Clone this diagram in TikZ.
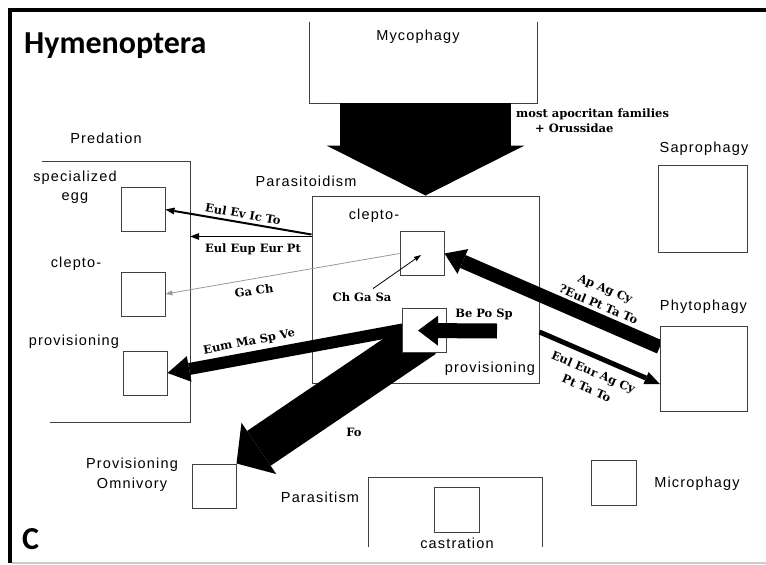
\documentclass[tikz,border=0pt]{standalone}
\usepackage{fontspec}
\setmainfont{Liberation Sans}
\newfontfamily\titlefont{Carlito}
\newfontfamily\taxfont{DejaVu Serif}
\newfontfamily\catfont[LetterSpace=8]{Liberation Sans}
\usetikzlibrary{arrows.meta}
\colorlet{boxgray}{black!75}
\colorlet{thingray}{black!40}

\begin{document}
\begin{tikzpicture}[x=1pt,y=-1pt]
\tikzset{sq/.style={draw=boxgray,line width=1pt,fill=white,minimum size=44pt,inner sep=0pt}}
\tikzset{area/.style={inner sep=0pt,minimum width=#1}}
\tikzset{cat/.style={font=\catfont\fontsize{14.5}{16}\selectfont,text height=10.4pt,text depth=0pt,inner sep=0pt}}
\tikzset{cattwo/.style={font=\catfont\fontsize{14.5}{19.5}\selectfont,align=center,inner sep=0pt}}
\tikzset{taxa/.style={font=\taxfont\bfseries\fontsize{11.5}{13}\selectfont,text height=8.4pt,text depth=0pt,inner sep=0pt}}
\tikzset{taxatwo/.style={font=\taxfont\bfseries\fontsize{11.5}{17.5}\selectfont,align=center,inner sep=0pt}}
\tikzset{edge/.style={draw=boxgray,line width=1pt}}
\useasboundingbox (0,0) rectangle (766,565);
\draw[line width=4pt] (10,563) -- (10,10) -- (766,10);
\draw[black!20,line width=1.5pt] (12,563) -- (766,563);
\node[anchor=base west,font=\titlefont\bfseries\fontsize{32}{36}\selectfont,inner sep=0pt] (title) at (24,53) {Hymenoptera};
\node[anchor=base west,font=\titlefont\bfseries\fontsize{32}{36}\selectfont,inner sep=0pt] (panel) at (22,549) {C};

\node[area=227pt,minimum height=81pt] (myco) at (423.5,62.5) {};
\draw[edge] (myco.north west) -- (myco.south west) -- (myco.south east) -- (myco.north east);
\node[cat] (mycolab) at (418,35) {Mycophagy};
\node[draw=boxgray,line width=1pt,minimum width=227pt,minimum height=187pt,inner sep=0pt] (para) at (425.5,289.5) {};
\node[cat] (paralab) at (306,181) {Parasitoidism};
\node[cat] (pclepto) at (374,214) {clepto-};
\node[cat] (pprov) at (490,367.5) {provisioning};
\draw[line width=171pt,-{Triangle[length=50pt,width=198pt,line width=0pt]}] (myco.south -| para.north) -- (para.north);
\node[taxa,anchor=west] (apoc) at (516,113) {most apocritan families};
\node[taxa,anchor=west] (oruss) at (535,128) {+ Orussidae};

\node[area=148pt,minimum height=260pt] (pred) at (116,292) {};
\draw[edge] (pred.north west) -- (pred.north east) -- (pred.south east) -- ([xshift=8pt]pred.south west);
\node[cat] (predlab) at (106,138.5) {Predation};
\node[cattwo] (spec) at (75,187) {specialized\\egg};
\node[cat] (lclep) at (76,262) {clepto-};
\node[cat] (lprovlab) at (74,340) {provisioning};
\node[sq] (eggbox) at (143,209.5) {};
\node[sq] (lclepbox) at (143,294) {};
\node[sq] (lprovbox) at (145,373) {};

\node[draw=boxgray,line width=1pt,minimum width=89pt,minimum height=87pt,inner sep=0pt] (sapro) at (702.5,208.5) {};
\node[cat] (saprolab) at (704,147) {Saprophagy};
\node[cat] (phytolab) at (703.5,305.5) {Phytophagy};

\coordinate (eulA) at ([yshift=55pt]para.west);
\coordinate (eulB) at ([yshift=53pt]para.west);
\draw[line width=2pt,-{Triangle[length=9pt,width=7pt,line width=0pt]}] (eulA) -- (eggbox.east);
\draw[line width=1.5pt,-{Triangle[length=9pt,width=7pt,line width=0pt]}] (eulB) -- (eulB -| pred.east);
\node[taxa,rotate=-10] (eulev) at (243,214) {Eul Ev Ic To};
\node[taxa] (euleup) at (253,248) {Eul Eup Eur Pt};

\coordinate (pcen) at (424,330.5);
\node[sq] (omni) at (214,486) {};
\draw[line width=42pt,-{Triangle[length=27pt,width=62pt,line width=0pt]}] ([yshift=-6pt]pcen) -- (omni.north east);
\node[taxa] (fo) at (354,432) {Fo};
\draw[line width=12pt,-{Triangle[length=22pt,width=26pt,line width=0pt]}] ([yshift=5pt]pcen) -- (lprovbox.east);
\node[taxa,rotate=11] (eum) at (249,341) {Eum Ma Sp Ve};

\node[sq] (cbox) at (422,253.5) {};
\node[sq] (pbox) at (pcen) {};
\draw[line width=15pt,-{Triangle[length=20pt,width=30pt,line width=0pt]}] (497,331) -- ([xshift=-6pt]pbox.center);
\node[taxa] (bps) at (484,313) {Be Po Sp};

\draw[thingray,line width=0.8pt,-{Triangle[length=7pt,width=5pt,line width=0pt]}] (cbox.west) -- (lclepbox.east);
\node[taxa,rotate=8] (gach) at (254,291) {Ga Ch};
\node[taxa] (cgs) at (362,297) {Ch Ga Sa};
\draw[line width=0.8pt,-{Triangle[length=7pt,width=5pt,line width=0pt]}] ([xshift=11pt,yshift=4pt]cgs.north) -- ([xshift=-1pt,yshift=-1.5pt]cbox.center);

\node[area=87pt,minimum height=85pt] (phyto) at (703.5,368.5) {};
\draw[line width=14pt,-{Triangle[length=20pt,width=27pt,line width=0pt]}] ([yshift=21.5pt]phyto.west) -- (cbox.east);
\draw[line width=5pt,-{Triangle[length=15pt,width=13pt,line width=0pt]}] ([yshift=-42.5pt]para.east) -- ([yshift=-15.5pt]phyto.west);
\node[draw=boxgray,line width=1pt,fill=white,minimum width=87pt,minimum height=85pt,inner sep=0pt] (phytobox) at (phyto) {};
\node[taxatwo,rotate=-23] (apag) at (602,296.5) {Ap Ag Cy\\?Eul Pt Ta To};
\node[taxatwo,rotate=-23] (euleur) at (590,380) {Eul Eur Ag Cy\\Pt Ta To};

\node[cattwo] (omnilab) at (132,474.5) {Provisioning\\Omnivory};

\node[area=173pt,minimum height=69pt] (parasit) at (455.5,512.5) {};
\draw[edge] (parasit.south west) -- (parasit.north west) -- (parasit.north east) -- (parasit.south east);
\node[cat] (parasitlab) at (320,497.5) {Parasitism};
\node[sq,minimum size=45pt] (castbox) at (456.5,509.5) {};
\node[cat] (castlab) at (457,543) {castration};
\node[sq,minimum size=45pt] (micro) at (613.5,482.5) {};
\node[cat] (microlab) at (697,482) {Microphagy};
\end{tikzpicture}
\end{document}
